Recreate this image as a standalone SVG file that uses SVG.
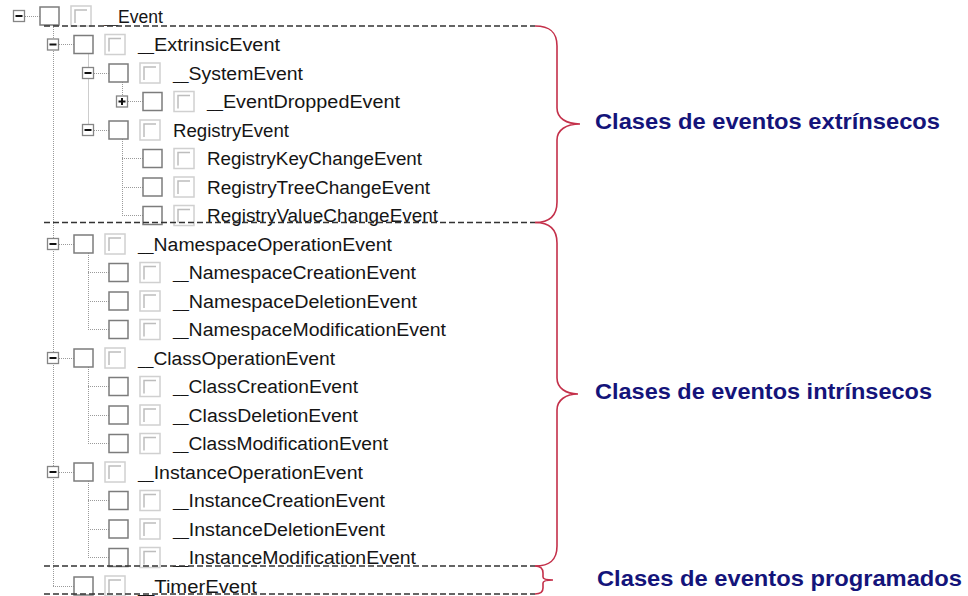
<svg xmlns="http://www.w3.org/2000/svg" width="968" height="596" viewBox="0 0 968 596">
  <style>
    .bg { fill: #ffffff; }
    .tree line { stroke: #9a9a9a; stroke-width: 1; stroke-dasharray: 1 1; }
    .exp { fill: #ffffff; stroke: #858585; stroke-width: 1.3; }
    .sign { stroke: #111; stroke-width: 2; }
    .chk { fill: #ffffff; stroke: #7c7c7c; stroke-width: 1.5; }
    .ico { fill: #ffffff; stroke: #d0d0d0; stroke-width: 1.5; }
    .ico-in { fill: none; stroke: #bdbdbd; stroke-width: 1.5; }
    .lbl { font-family: "Liberation Sans", Arial, sans-serif; font-size: 18px; fill: #151515; }
    .us { font-size: 13px; }
    .sep { stroke: #333; stroke-width: 1.5; stroke-dasharray: 6 3; fill: none; }
    .brace { fill: none; stroke: #c4304a; stroke-width: 1.6; }
    .cat { font-family: "Liberation Sans", Arial, sans-serif; font-size: 22px; font-weight: bold; fill: #14147a; }
  </style>
  <defs>
    <!-- check box + greyed state icon, drawn at row origin -->
    <g id="item">
      <rect class="chk" x="0" y="-9" width="19" height="18"/>
      <rect class="ico" x="31" y="-10" width="20" height="20"/>
      <path class="ico-in" d="M35,7 V-6 H47"/>
    </g>
    <g id="minus">
      <rect class="exp" x="-5.5" y="-5.5" width="11" height="11"/>
      <line class="sign" x1="-3.5" y1="0" x2="3.5" y2="0"/>
    </g>
    <g id="plus">
      <rect class="exp" x="-5.5" y="-5.5" width="11" height="11"/>
      <line class="sign" x1="-3.5" y1="0" x2="3.5" y2="0"/>
      <line class="sign" x1="0" y1="-3.5" x2="0" y2="3.5"/>
    </g>
  </defs>
  <rect class="bg" x="0" y="0" width="968" height="596"/>

  <!-- tree connector lines -->
  <g id="connectors" class="tree">
    <line x1="53.5" y1="25" x2="53.5" y2="586"/>
    <line x1="88.5" y1="53.5" x2="88.5" y2="130"/>
    <line x1="122.5" y1="82" x2="122.5" y2="101.5"/>
    <line x1="122.5" y1="139" x2="122.5" y2="215.5"/>
    <line x1="88.5" y1="253" x2="88.5" y2="329.5"/>
    <line x1="88.5" y1="367" x2="88.5" y2="443.5"/>
    <line x1="88.5" y1="481" x2="88.5" y2="557.5"/>
    <!-- horizontal stubs -->
    <line x1="19" y1="16.5" x2="40" y2="16.5"/>
    <line x1="53" y1="44.5" x2="74" y2="44.5"/>
    <line x1="88" y1="73.5" x2="109" y2="73.5"/>
    <line x1="122" y1="101.5" x2="143" y2="101.5"/>
    <line x1="88" y1="130.5" x2="109" y2="130.5"/>
    <line x1="122" y1="158.5" x2="143" y2="158.5"/>
    <line x1="122" y1="187.5" x2="143" y2="187.5"/>
    <line x1="122" y1="215.5" x2="143" y2="215.5"/>
    <line x1="53" y1="244.5" x2="74" y2="244.5"/>
    <line x1="88" y1="272.5" x2="109" y2="272.5"/>
    <line x1="88" y1="301.5" x2="109" y2="301.5"/>
    <line x1="88" y1="329.5" x2="109" y2="329.5"/>
    <line x1="53" y1="358.5" x2="74" y2="358.5"/>
    <line x1="88" y1="386.5" x2="109" y2="386.5"/>
    <line x1="88" y1="415.5" x2="109" y2="415.5"/>
    <line x1="88" y1="443.5" x2="109" y2="443.5"/>
    <line x1="53" y1="472.5" x2="74" y2="472.5"/>
    <line x1="88" y1="500.5" x2="109" y2="500.5"/>
    <line x1="88" y1="529.5" x2="109" y2="529.5"/>
    <line x1="88" y1="557.5" x2="109" y2="557.5"/>
    <line x1="53" y1="586.5" x2="74" y2="586.5"/>
  </g>

  <!-- tree items -->
  <g id="n-event"><use href="#minus" x="19" y="16"/><use href="#item" x="40" y="16"/><text class="lbl" x="104" y="22.5" textLength="59" lengthAdjust="spacingAndGlyphs"><tspan class="us">__</tspan>Event</text></g>
  <g id="n-extrinsic"><use href="#minus" x="53" y="44.5"/><use href="#item" x="74" y="44.5"/><text class="lbl" x="138" y="51" textLength="142" lengthAdjust="spacingAndGlyphs"><tspan class="us">__</tspan>ExtrinsicEvent</text></g>
  <g id="n-system"><use href="#minus" x="88" y="73"/><use href="#item" x="109" y="73"/><text class="lbl" x="173" y="79.5" textLength="130" lengthAdjust="spacingAndGlyphs"><tspan class="us">__</tspan>SystemEvent</text></g>
  <g id="n-dropped"><use href="#plus" x="122" y="101.5"/><use href="#item" x="143" y="101.5"/><text class="lbl" x="207" y="108" textLength="193" lengthAdjust="spacingAndGlyphs"><tspan class="us">__</tspan>EventDroppedEvent</text></g>
  <g id="n-registry"><use href="#minus" x="88" y="130"/><use href="#item" x="109" y="130"/><text class="lbl" x="173" y="136.5" textLength="116" lengthAdjust="spacingAndGlyphs">RegistryEvent</text></g>
  <g id="n-regkey"><use href="#item" x="143" y="158.5"/><text class="lbl" x="207" y="165" textLength="215" lengthAdjust="spacingAndGlyphs">RegistryKeyChangeEvent</text></g>
  <g id="n-regtree"><use href="#item" x="143" y="187"/><text class="lbl" x="207" y="193.5" textLength="223" lengthAdjust="spacingAndGlyphs">RegistryTreeChangeEvent</text></g>
  <g id="n-regvalue"><use href="#item" x="143" y="215.5"/><text class="lbl" x="207" y="222" textLength="231" lengthAdjust="spacingAndGlyphs">RegistryValueChangeEvent</text></g>
  <g id="n-nsop"><use href="#minus" x="53" y="244"/><use href="#item" x="74" y="244"/><text class="lbl" x="138" y="250.5" textLength="254" lengthAdjust="spacingAndGlyphs"><tspan class="us">__</tspan>NamespaceOperationEvent</text></g>
  <g id="n-nscreate"><use href="#item" x="109" y="272.5"/><text class="lbl" x="173" y="279" textLength="243" lengthAdjust="spacingAndGlyphs"><tspan class="us">__</tspan>NamespaceCreationEvent</text></g>
  <g id="n-nsdelete"><use href="#item" x="109" y="301"/><text class="lbl" x="173" y="307.5" textLength="244" lengthAdjust="spacingAndGlyphs"><tspan class="us">__</tspan>NamespaceDeletionEvent</text></g>
  <g id="n-nsmodify"><use href="#item" x="109" y="329.5"/><text class="lbl" x="173" y="336" textLength="273" lengthAdjust="spacingAndGlyphs"><tspan class="us">__</tspan>NamespaceModificationEvent</text></g>
  <g id="n-classop"><use href="#minus" x="53" y="358"/><use href="#item" x="74" y="358"/><text class="lbl" x="138" y="364.5" textLength="197" lengthAdjust="spacingAndGlyphs"><tspan class="us">__</tspan>ClassOperationEvent</text></g>
  <g id="n-classcreate"><use href="#item" x="109" y="386.5"/><text class="lbl" x="173" y="393" textLength="185" lengthAdjust="spacingAndGlyphs"><tspan class="us">__</tspan>ClassCreationEvent</text></g>
  <g id="n-classdelete"><use href="#item" x="109" y="415"/><text class="lbl" x="173" y="421.5" textLength="185" lengthAdjust="spacingAndGlyphs"><tspan class="us">__</tspan>ClassDeletionEvent</text></g>
  <g id="n-classmodify"><use href="#item" x="109" y="443.5"/><text class="lbl" x="173" y="450" textLength="215" lengthAdjust="spacingAndGlyphs"><tspan class="us">__</tspan>ClassModificationEvent</text></g>
  <g id="n-instop"><use href="#minus" x="53" y="472"/><use href="#item" x="74" y="472"/><text class="lbl" x="138" y="478.5" textLength="225" lengthAdjust="spacingAndGlyphs"><tspan class="us">__</tspan>InstanceOperationEvent</text></g>
  <g id="n-instcreate"><use href="#item" x="109" y="500.5"/><text class="lbl" x="173" y="507" textLength="212" lengthAdjust="spacingAndGlyphs"><tspan class="us">__</tspan>InstanceCreationEvent</text></g>
  <g id="n-instdelete"><use href="#item" x="109" y="529"/><text class="lbl" x="173" y="535.5" textLength="212" lengthAdjust="spacingAndGlyphs"><tspan class="us">__</tspan>InstanceDeletionEvent</text></g>
  <g id="n-instmodify"><use href="#item" x="109" y="557.5"/><text class="lbl" x="173" y="564" textLength="243" lengthAdjust="spacingAndGlyphs"><tspan class="us">__</tspan>InstanceModificationEvent</text></g>
  <g id="n-timer"><use href="#item" x="74" y="586"/><text class="lbl" x="138" y="592.5" textLength="119" lengthAdjust="spacingAndGlyphs"><tspan class="us">__</tspan>TimerEvent</text></g>

  <!-- group separators -->
  <g id="separators">
    <line class="sep" x1="44" y1="26" x2="535" y2="26"/>
    <line class="sep" x1="44" y1="222.5" x2="535" y2="222.5"/>
    <line class="sep" x1="44" y1="566" x2="535" y2="566"/>
    <line class="sep" x1="44" y1="594" x2="535" y2="594"/>
  </g>

  <!-- braces -->
  <g id="braces">
    <path class="brace" d="M535,26 C550,26 557,32 557,46 L557,108 C557,118 566,124 580,124 C566,124 557,130 557,140 L557,202 C557,216 550,222.5 535,222.5"/>
    <path class="brace" d="M535,222.5 C550,222.5 557,229 557,243 L557,378 C557,388 566,394 578,394 C566,394 557,400 557,410 L557,546 C557,560 550,566 535,566"/>
    <path class="brace" d="M535,566 C541,566 543,569 543,573 L543,577 C543,579 546,580 553,580 C546,580 543,581 543,583 L543,588 C543,592 541,594 535,594"/>
  </g>

  <!-- category labels -->
  <g id="categories">
    <text class="cat" x="595" y="129" textLength="345" lengthAdjust="spacingAndGlyphs">Clases de eventos extrínsecos</text>
    <text class="cat" x="595" y="399" textLength="337" lengthAdjust="spacingAndGlyphs">Clases de eventos intrínsecos</text>
    <text class="cat" x="597" y="586" textLength="365" lengthAdjust="spacingAndGlyphs">Clases de eventos programados</text>
  </g>
</svg>
